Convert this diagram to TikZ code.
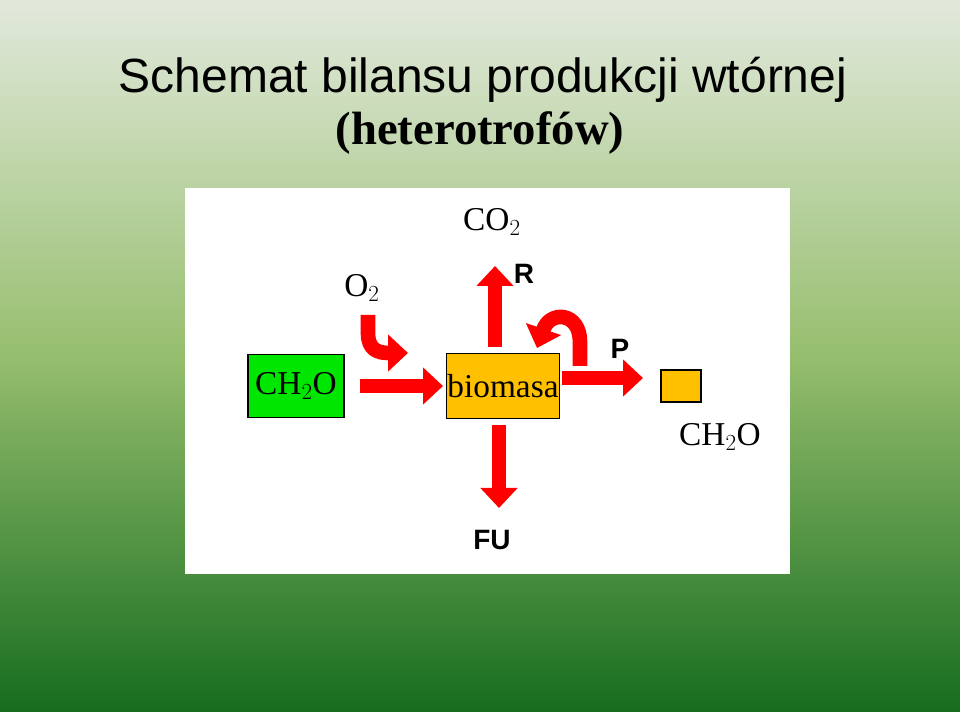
\documentclass[tikz,border=0pt]{standalone}
\usepackage{fontspec}
\setmainfont{Liberation Serif}
\setsansfont{Liberation Sans}
\usetikzlibrary{arrows.meta}
\definecolor{bgtop}{RGB}{226,233,220}
\definecolor{bgmid}{RGB}{150,190,110}
\definecolor{bgbot}{RGB}{22,108,30}
\definecolor{gold}{RGB}{255,192,0}
\definecolor{grn}{RGB}{0,230,0}
\begin{document}
\begin{tikzpicture}[x=0.75pt,y=-0.75pt,
  redarr/.style={draw=red,line width=11pt,-{Triangle[length=15pt,width=27pt]}},
  boxs/.style={draw=black,line width=1pt,inner sep=0pt},
  lab/.style={font=\fontsize{25}{25}\selectfont,inner sep=0pt},
  blab/.style={font=\sffamily\bfseries\fontsize{21}{21}\selectfont,inner sep=0pt}]
\shade[top color=bgtop,bottom color=bgbot,middle color=bgmid] (0,0) rectangle (960,712);
\useasboundingbox (0,0) rectangle (960,712);
\node (t1) at (483,80) {\sffamily\fontsize{36}{36}\selectfont Schemat bilansu produkcji wtórnej};
\node (t2) at (480,133) {\bfseries\fontsize{35}{35}\selectfont (heterotrofów)};
\fill[white] (185,188) rectangle (790,574);
\node[boxs,fill=grn,minimum width=72pt,minimum height=47pt,lab] (ch) at (296,386) {CH$_2$O};
\node[boxs,fill=gold,minimum width=85pt,minimum height=49pt,lab] (bio) at (503,386) {biomasa};
\node[boxs,fill=gold,minimum width=30pt,minimum height=24pt] (sm) at (681,386) {};
\node[lab] (ch2) at (720,437) {CH$_2$O};
\node[lab] (co2) at (492,222) {CO$_2$};
\node[lab] (o2) at (362,288) {O$_2$};
\node[blab] (R) at (524,274) {R};
\node[blab] (P) at (620,349) {P};
\node[blab] (FU) at (492,540) {FU};
\coordinate (a1) at (360,386);
\coordinate (a1e) at (443,386);
\draw[redarr] (a1) -- (a1e);
\coordinate (r0) at (495,347);
\coordinate (r1) at (495,266);
\draw[redarr] (r0) -- (r1);
\coordinate (f0) at (499,425);
\coordinate (f1) at (499,508);
\draw[redarr] (f0) -- (f1);
\coordinate (p0) at (562,378);
\coordinate (p1) at (643,378);
\draw[redarr] (p0) -- (p1);
\coordinate (o0) at (368,315);
\coordinate (o1) at (408,353);
\draw[redarr] (o0) -- (368,333) .. controls (368,350) and (378,353) .. (o1);
\coordinate (l0) at (580,366);
\coordinate (l1) at (537,348);
\draw[redarr] (l0) -- (580,342) .. controls (580,312) and (550,310) .. (l1);
\end{tikzpicture}
\end{document}
